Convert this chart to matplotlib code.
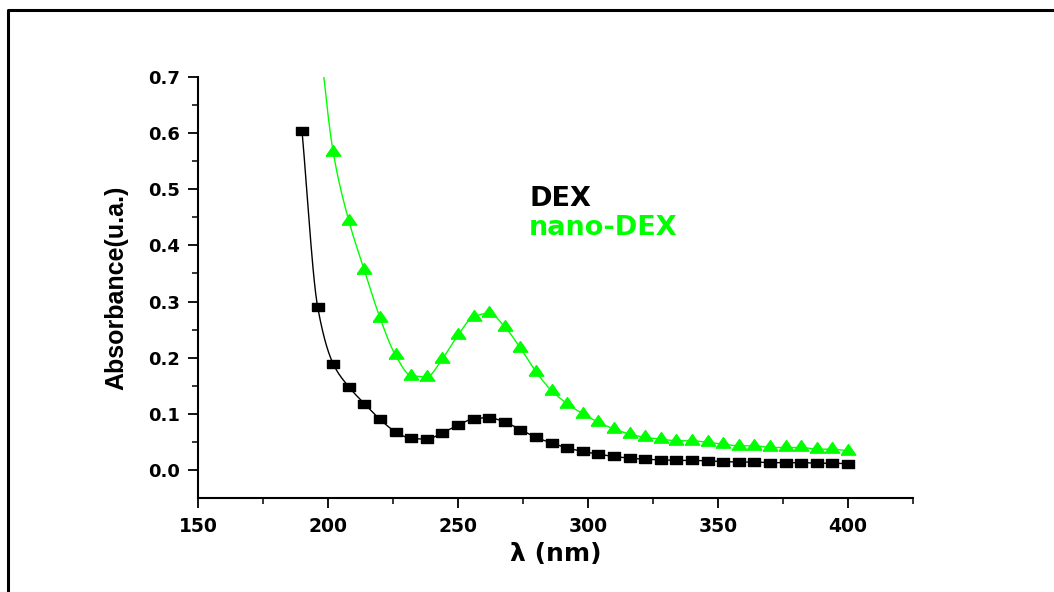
import numpy as np
import matplotlib
matplotlib.use("Agg")
import matplotlib.pyplot as plt
from matplotlib.lines import Line2D
from matplotlib.path import Path

# UV-vis absorbance spectra
dex_wavelength = [190, 196, 202, 208, 214, 220, 226, 232, 238, 244, 250, 256,
                  262, 268, 274, 280, 286, 292, 298, 304, 310, 316, 322, 328,
                  334, 340, 346, 352, 358, 364, 370, 376, 382, 388, 394, 400]
dex_absorbance = [0.604, 0.291, 0.189, 0.148, 0.118, 0.090, 0.068, 0.056, 0.055,
                  0.066, 0.080, 0.091, 0.093, 0.085, 0.072, 0.058, 0.048, 0.039,
                  0.033, 0.028, 0.024, 0.021, 0.019, 0.018, 0.017, 0.017, 0.016,
                  0.015, 0.014, 0.014, 0.013, 0.013, 0.013, 0.012, 0.012, 0.011]

nano_wavelength = [196, 202, 208, 214, 220, 226, 232, 238, 244, 250, 256, 262,
                   268, 274, 280, 286, 292, 298, 304, 310, 316, 322, 328, 334,
                   340, 346, 352, 358, 364, 370, 376, 382, 388, 394, 400]
nano_absorbance = [0.80, 0.566, 0.444, 0.356, 0.271, 0.204, 0.168, 0.166, 0.198,
                   0.240, 0.273, 0.279, 0.255, 0.217, 0.175, 0.141, 0.118, 0.100,
                   0.085, 0.073, 0.064, 0.058, 0.055, 0.052, 0.052, 0.049, 0.046,
                   0.043, 0.043, 0.040, 0.040, 0.040, 0.037, 0.037, 0.034]

series_labels = ["DEX", "nano-DEX"]
GREEN = "#00ff00"


def pchip(x, y, xs):
    # monotone cubic (Fritsch-Carlson), so the smooth line never overshoots
    x = np.asarray(x, float)
    y = np.asarray(y, float)
    h = np.diff(x)
    d = np.diff(y) / h
    m = np.zeros_like(y)
    m[0], m[-1] = d[0], d[-1]
    for k in range(1, len(x) - 1):
        if d[k - 1] * d[k] > 0:
            w1 = 2 * h[k] + h[k - 1]
            w2 = h[k] + 2 * h[k - 1]
            m[k] = (w1 + w2) / (w1 / d[k - 1] + w2 / d[k])
    i = np.clip(np.searchsorted(x, xs) - 1, 0, len(x) - 2)
    t = (xs - x[i]) / h[i]
    h00 = 2 * t**3 - 3 * t**2 + 1
    h10 = t**3 - 2 * t**2 + t
    h01 = -2 * t**3 + 3 * t**2
    h11 = t**3 - t**2
    return h00 * y[i] + h10 * h[i] * m[i] + h01 * y[i + 1] + h11 * h[i] * m[i + 1]


def main():
    fig = plt.figure(figsize=(10.54, 5.92), dpi=100)
    ax = fig.add_axes([198 / 1054, 1 - 498 / 592, 715 / 1054, 421 / 592])

    rect = Path([(-1, -0.65), (1, -0.65), (1, 0.65), (-1, 0.65), (-1, -0.65)])
    tri = Path([(-1, -0.5), (1, -0.5), (0, 0.95), (-1, -0.5)])

    xs = np.linspace(dex_wavelength[0], dex_wavelength[-1], 800)
    ax.plot(xs, pchip(dex_wavelength, dex_absorbance, xs), color="black", lw=1.0)
    ax.plot(dex_wavelength, dex_absorbance, ls="none", marker=rect,
            markersize=8, color="black")

    xs = np.linspace(nano_wavelength[0], nano_wavelength[-1], 800)
    ax.plot(xs, pchip(nano_wavelength, nano_absorbance, xs), color=GREEN, lw=1.0)
    ax.plot(nano_wavelength, nano_absorbance, ls="none", marker=tri,
            markersize=10.5, color=GREEN)

    ax.set_xlim(150, 425)
    ax.set_ylim(-0.05, 0.7)
    ax.set_xticks([150, 200, 250, 300, 350, 400])
    ax.set_xticks(np.arange(175, 426, 50), minor=True)
    ax.set_yticks(np.arange(0, 0.71, 0.1))
    ax.set_yticks(np.arange(0.05, 0.7, 0.1), minor=True)
    ax.set_yticklabels([f"{v:.1f}" for v in np.arange(0, 0.71, 0.1)])

    for side in ["top", "right"]:
        ax.spines[side].set_visible(False)
    for side in ["left", "bottom"]:
        ax.spines[side].set_linewidth(1.5)

    ax.tick_params(which="major", direction="out", length=7, width=1.3)
    ax.tick_params(which="minor", direction="out", length=4, width=1.1)
    ax.tick_params(axis="y", labelsize=13, pad=6)
    ax.tick_params(axis="x", labelsize=13.5, pad=7)
    for lab in ax.get_xticklabels() + ax.get_yticklabels():
        lab.set_fontweight("bold")

    ax.set_xlabel("\u03bb (nm)", fontsize=18, fontweight="bold", labelpad=4)
    ax.set_ylabel("Absorbance(u.a.)", fontsize=18, fontweight="bold",
                  family="Liberation Sans", labelpad=14)

    ax.text(529 / 1054, 1 - 199 / 592, series_labels[0], transform=fig.transFigure,
            fontsize=19.5, fontweight="bold", color="black", va="center")
    ax.text(529 / 1054, 1 - 228 / 592, series_labels[1], transform=fig.transFigure,
            fontsize=19.5, fontweight="bold", color=GREEN, va="center")

    # outer frame, cut off at the right and bottom like in the original
    fig.add_artist(Line2D([8 / 1054, 8 / 1054, 1], [0, 1 - 10 / 592, 1 - 10 / 592],
                          transform=fig.transFigure, color="black", lw=2.2))

    fig.savefig("out.png", dpi=100)


if __name__ == "__main__":
    main()
